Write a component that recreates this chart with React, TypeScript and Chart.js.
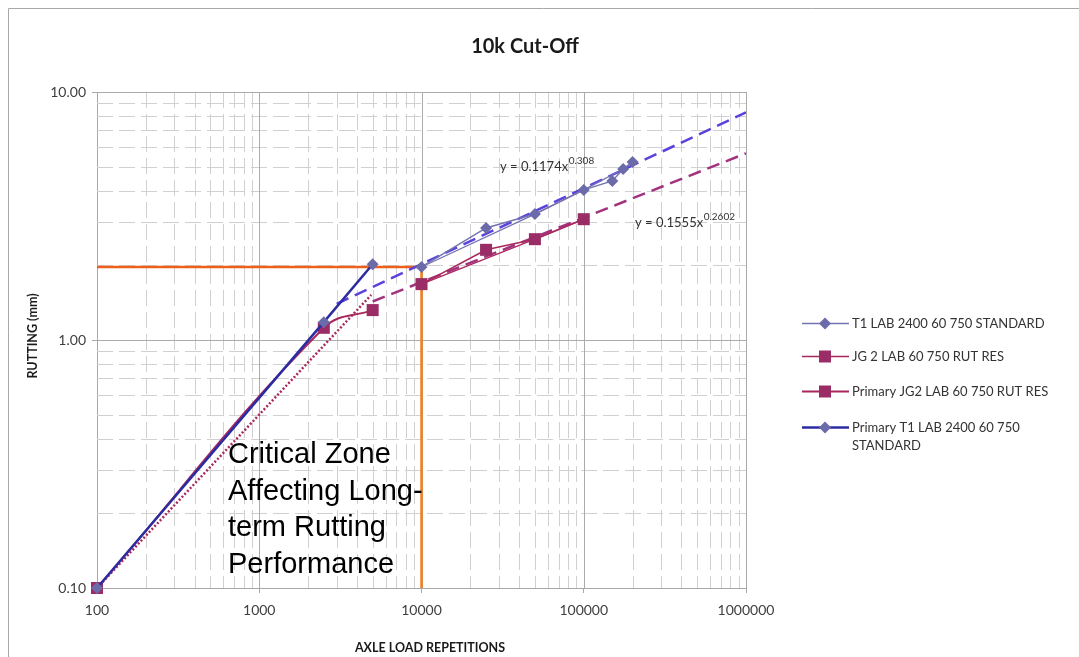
import React, { useEffect, useRef } from 'react';
import { Chart, registerables } from 'chart.js';

Chart.register(...registerables);

// ---------- data ----------
const TITLE = '10k Cut-Off';
const X_TITLE = 'AXLE LOAD REPETITIONS';
const Y_TITLE = 'RUTTING (mm)';

const X_TICKS = [100, 1000, 10000, 100000, 1000000];
const Y_TICKS = [0.1, 1, 10];

const SERIES_NAMES = [
  'T1 LAB 2400 60 750 STANDARD',
  'JG 2 LAB 60 750 RUT RES',
  'Primary JG2 LAB 60 750 RUT RES',
  'Primary T1 LAB 2400 60 750 STANDARD',
];

const T1_X = [10000, 25000, 50000, 100000, 150000, 175000, 200000];
const T1_Y = [1.97, 2.83, 3.22, 4.03, 4.38, 4.89, 5.22];
const T1_ALT_X = [10000, 50000, 100000, 175000, 200000];
const T1_ALT_Y = [1.97, 3.22, 4.03, 4.89, 5.22];

const JG_X = [10000, 25000, 50000, 100000];
const JG_Y = [1.68, 2.31, 2.55, 3.07];
const JG_ALT_X = [10000, 50000, 100000];
const JG_ALT_Y = [1.68, 2.55, 3.07];

const PJG_X = [100, 2500, 5000];
const PJG_Y = [0.1, 1.12, 1.32];

const PT1_X = [100, 2500, 5000];
const PT1_Y = [0.1, 1.18, 2.02];

const T1_TREND_X = [3000, 1000000];
const T1_TREND_Y = [1.4, 8.28];
const JG_TREND_X = [5000, 1000000];
const JG_TREND_Y = [1.43, 5.66];
const PJG_TREND_X = [100, 4900];
const PJG_TREND_Y = [0.1, 1.52];

const CUT_H_X = [100, 10000];
const CUT_H_Y = [1.97, 1.97];
const CUT_V_X = [10000, 10000];
const CUT_V_Y = [1.97, 0.1];

const T1_EQ = ['y = 0.1174x', '0.308'];
const JG_EQ = ['y = 0.1555x', '0.2602'];

const NOTE_LINES = ['Critical Zone', 'Affecting Long-', 'term Rutting', 'Performance'];

// ---------- helpers ----------
const pts = (xs: number[], ys: number[]) => xs.map((x, i) => ({ x, y: ys[i] }));

const C_T1 = '#7373B2';
const C_T1_MK = '#6B6BAA';
const C_PT1 = '#2C2CA2';
const C_JG = '#A8285E';
const C_JG_MK = '#9B2D66';
const C_T1_TREND = '#5B42DC';
const C_JG_TREND = '#A2327E';
const C_ORANGE_H = '#EE5F1E';
const C_ORANGE_V = '#F2801E';

function drawMarker(ctx: CanvasRenderingContext2D, kind: string, cx: number, cy: number, color: string) {
  ctx.fillStyle = color;
  ctx.beginPath();
  if (kind === 'diamond') {
    ctx.moveTo(cx, cy - 6);
    ctx.lineTo(cx + 6, cy);
    ctx.lineTo(cx, cy + 6);
    ctx.lineTo(cx - 6, cy);
    ctx.closePath();
  } else {
    ctx.rect(cx - 6, cy - 6, 12, 12);
  }
  ctx.fill();
}

const decor = {
  id: 'decor',
  beforeDraw(chart: any) {
    const { ctx, width, height } = chart;
    ctx.save();
    ctx.fillStyle = '#ffffff';
    ctx.fillRect(0, 0, width, height);
    ctx.strokeStyle = '#A8A8A8';
    ctx.lineWidth = 1;
    ctx.beginPath();
    ctx.moveTo(8.5, height);
    ctx.lineTo(8.5, 8.5);
    ctx.lineTo(width, 8.5);
    ctx.stroke();
    ctx.restore();
  },
  beforeDatasetsDraw(chart: any) {
    const { ctx, chartArea: a, scales } = chart;
    const x = scales.x;
    const y = scales.y;
    ctx.save();
    ctx.lineWidth = 1;
    // minor grid
    ctx.strokeStyle = '#D0D0D0';
    ctx.setLineDash([16, 6]);
    ctx.beginPath();
    for (let d = 100; d < 1000000; d *= 10) {
      for (let k = 2; k <= 9; k++) {
        const px = Math.round(x.getPixelForValue(k * d)) + 0.5;
        ctx.moveTo(px, a.top);
        ctx.lineTo(px, a.bottom);
      }
    }
    for (const d of [0.1, 1]) {
      for (let k = 2; k <= 9; k++) {
        const py = Math.round(y.getPixelForValue(k * d)) + 0.5;
        ctx.moveTo(a.left, py);
        ctx.lineTo(a.right, py);
      }
    }
    ctx.stroke();
    // major grid
    ctx.setLineDash([]);
    ctx.strokeStyle = '#ABABAB';
    ctx.beginPath();
    for (const v of X_TICKS.slice(1)) {
      const px = Math.round(x.getPixelForValue(v)) + 0.5;
      ctx.moveTo(px, a.top);
      ctx.lineTo(px, a.bottom);
    }
    for (const v of Y_TICKS.slice(1)) {
      const py = Math.round(y.getPixelForValue(v)) + 0.5;
      ctx.moveTo(a.left, py);
      ctx.lineTo(a.right, py);
    }
    ctx.stroke();
    ctx.restore();
  },
  afterDraw(chart: any) {
    const { ctx } = chart;
    ctx.save();
    // title
    ctx.fillStyle = '#1A1A1A';
    ctx.textAlign = 'center';
    ctx.textBaseline = 'middle';
    ctx.font = 'bold 20px Lato';
    ctx.fillText(TITLE, 525, 47);
    // axis titles
    ctx.font = 'bold 12.5px Lato';
    ctx.fillText(X_TITLE, 430, 648);
    ctx.save();
    ctx.translate(33, 336);
    ctx.rotate(-Math.PI / 2);
    ctx.fillText(Y_TITLE, 0, 0);
    ctx.restore();

    // equations
    ctx.textAlign = 'left';
    ctx.textBaseline = 'alphabetic';
    ctx.fillStyle = '#333333';
    const eq = (parts: string[], x0: number, y0: number) => {
      ctx.font = '13px Lato';
      ctx.fillText(parts[0], x0, y0);
      const w = ctx.measureText(parts[0]).width;
      ctx.font = '10px Lato';
      ctx.fillText(parts[1], x0 + w + 0.5, y0 - 7);
    };
    eq(T1_EQ, 500, 171);
    eq(JG_EQ, 635, 227);

    // annotation
    ctx.fillStyle = '#000000';
    ctx.font = '29px "Liberation Sans"';
    NOTE_LINES.forEach((t, i) => ctx.fillText(t, 228, 463 + i * 36.7));

    // legend
    const ds = chart.data.datasets;
    const entries = [
      { ds: ds[0], mk: 'diamond', y: 323, lines: [SERIES_NAMES[0]] },
      { ds: ds[2], mk: 'square', y: 356, lines: [SERIES_NAMES[1]] },
      { ds: ds[4], mk: 'square', y: 391, lines: [SERIES_NAMES[2]] },
      { ds: ds[5], mk: 'diamond', y: 427, lines: ['Primary T1 LAB 2400 60 750', 'STANDARD'] },
    ];
    entries.forEach((e) => {
      ctx.strokeStyle = e.ds.borderColor;
      ctx.lineWidth = e.ds.borderWidth;
      ctx.beginPath();
      ctx.moveTo(802, e.y + 0.5);
      ctx.lineTo(849, e.y + 0.5);
      ctx.stroke();
      drawMarker(ctx, e.mk, 825, e.y + 0.5, e.ds.pointBackgroundColor);
      ctx.fillStyle = '#333333';
      ctx.font = '13px Lato';
      ctx.textBaseline = 'middle';
      e.lines.forEach((t, i) => ctx.fillText(t, 852, e.y + 1 + i * 18));
    });
    ctx.restore();
  },
};

export default function App() {
  const ref = useRef<HTMLCanvasElement | null>(null);

  useEffect(() => {
    document.body.style.margin = '0';
    document.body.style.overflow = 'hidden';
    const canvas = ref.current;
    if (!canvas) return;
    const line = (extra: any) => ({
      fill: false,
      pointRadius: 0,
      pointStyle: false,
      tension: 0,
      ...extra,
    });
    const chart = new Chart(canvas, {
      type: 'line',
      data: {
        datasets: [
          line({
            label: SERIES_NAMES[0],
            data: pts(T1_X, T1_Y),
            borderColor: C_T1,
            borderWidth: 1.5,
            pointStyle: 'rectRot',
            pointRadius: 6,
            pointBackgroundColor: C_T1_MK,
            pointBorderColor: C_T1_MK,
            pointBorderWidth: 0,
            order: 1,
          }),
          line({ label: 'T1 alt', data: pts(T1_ALT_X, T1_ALT_Y), borderColor: C_T1, borderWidth: 1.3, order: 2 }),
          line({
            label: SERIES_NAMES[1],
            data: pts(JG_X, JG_Y),
            borderColor: C_JG,
            borderWidth: 1.5,
            pointStyle: 'rect',
            pointRadius: 8.5,
            pointBackgroundColor: C_JG_MK,
            pointBorderColor: C_JG_MK,
            pointBorderWidth: 0,
            order: 1,
          }),
          line({ label: 'JG alt', data: pts(JG_ALT_X, JG_ALT_Y), borderColor: C_JG, borderWidth: 1.3, order: 2 }),
          line({
            label: SERIES_NAMES[2],
            data: pts(PJG_X, PJG_Y),
            borderColor: C_JG,
            borderWidth: 2,
            tension: 0.4,
            pointStyle: 'rect',
            pointRadius: 8.5,
            pointBackgroundColor: C_JG_MK,
            pointBorderColor: C_JG_MK,
            pointBorderWidth: 0,
            clip: false,
            order: 1,
          }),
          line({
            label: SERIES_NAMES[3],
            data: pts(PT1_X, PT1_Y),
            borderColor: C_PT1,
            borderWidth: 2.5,
            pointStyle: 'rectRot',
            pointRadius: 6,
            pointBackgroundColor: C_T1_MK,
            pointBorderColor: C_T1_MK,
            pointBorderWidth: 0,
            clip: false,
            order: 0,
          }),
          line({ label: 'T1 trend', data: pts(T1_TREND_X, T1_TREND_Y), borderColor: C_T1_TREND, borderWidth: 2.5, borderDash: [13, 7], order: 4 }),
          line({ label: 'JG trend', data: pts(JG_TREND_X, JG_TREND_Y), borderColor: C_JG_TREND, borderWidth: 2.5, borderDash: [13, 7], order: 4 }),
          line({ label: 'Primary JG2 trend', data: pts(PJG_TREND_X, PJG_TREND_Y), borderColor: C_JG, borderWidth: 2.5, borderDash: [2, 2], order: 3 }),
          line({ label: 'cut-off h', data: pts(CUT_H_X, CUT_H_Y), borderColor: C_ORANGE_H, borderWidth: 2.5, order: 6 }),
          line({ label: 'cut-off v', data: pts(CUT_V_X, CUT_V_Y), borderColor: C_ORANGE_V, borderWidth: 2.5, order: 6 }),
        ],
      },
      options: {
        responsive: false,
        animation: false,
        events: [],
        devicePixelRatio: 1,
        layout: { padding: { left: 0, top: 92, right: 333, bottom: 0 } },
        plugins: {
          legend: { display: false },
          title: { display: false },
          tooltip: { enabled: false },
        },
        scales: {
          x: {
            type: 'logarithmic',
            min: 100,
            max: 1000000,
            afterBuildTicks: (s: any) => {
              s.ticks = X_TICKS.map((value) => ({ value }));
            },
            afterFit: (s: any) => {
              s.height = 69;
            },
            ticks: {
              callback: (v: any) => String(v),
              font: { family: 'Lato', size: 14 },
              color: '#404040',
              padding: 9,
              autoSkip: false,
              maxRotation: 0,
            },
            grid: { display: true, drawOnChartArea: false, drawTicks: true, tickLength: 5, color: '#A8A8A8' },
            border: { display: true, color: '#A8A8A8', width: 1 },
          },
          y: {
            type: 'logarithmic',
            min: 0.1,
            max: 10,
            afterBuildTicks: (s: any) => {
              s.ticks = Y_TICKS.map((value) => ({ value }));
            },
            afterFit: (s: any) => {
              s.width = 97;
            },
            ticks: {
              callback: (v: any) => Number(v).toFixed(2),
              font: { family: 'Lato', size: 14 },
              color: '#404040',
              padding: 6,
              autoSkip: false,
            },
            grid: { display: true, drawOnChartArea: false, drawTicks: true, tickLength: 5, color: '#A8A8A8' },
            border: { display: true, color: '#A8A8A8', width: 1 },
          },
        },
      },
      plugins: [decor],
    } as any);
    return () => chart.destroy();
  }, []);

  return (
    <div style={{ width: 1079, height: 657 }}>
      <canvas ref={ref} width={1079} height={657} style={{ display: 'block' }} />
    </div>
  );
}
